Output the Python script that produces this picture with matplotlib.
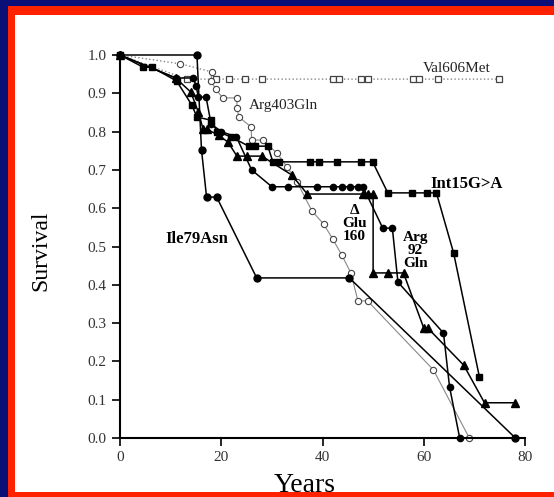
import matplotlib.pyplot as plt
from matplotlib.patches import Rectangle

# survival curves (years, survival fraction)
ile79_x = [0, 15.2, 16.1, 17.1, 19.1, 27.0, 45.3, 78.1]
ile79_y = [1.0, 1.0, 0.752, 0.629, 0.629, 0.418, 0.418, 0.0]

int15_x = [0, 4.6, 6.3, 11.2, 14.2, 15.2, 17.9, 19.2, 22.0, 25.4, 26.6, 29.2, 30.2, 31.5,
           37.5, 39.4, 42.8, 47.7, 49.9, 52.9, 57.6, 60.7, 62.5, 65.9, 71.0]
int15_y = [1.0, 0.968, 0.968, 0.932, 0.869, 0.838, 0.83, 0.80, 0.786, 0.762, 0.762, 0.762, 0.721, 0.721,
           0.721, 0.721, 0.721, 0.721, 0.721, 0.64, 0.64, 0.64, 0.64, 0.483, 0.159]

glu160_x = [0, 11.0, 14.0, 15.5, 16.4, 17.1, 19.5, 21.3, 23.1, 25.0, 28.0, 33.9, 37.0,
            48.0, 49.0, 50.0, 50.0, 52.9, 56.0, 60.0, 60.8, 67.9, 72.0, 78.0]
glu160_y = [1.0, 0.94, 0.903, 0.85, 0.807, 0.807, 0.79, 0.773, 0.736, 0.736, 0.736, 0.687, 0.637,
            0.637, 0.637, 0.637, 0.431, 0.431, 0.431, 0.287, 0.287, 0.19, 0.092, 0.092]

arg92_x = [0, 11.0, 14.5, 15.0, 15.5, 17.0, 18.0, 20.0, 23.0, 26.0, 30.0, 33.1, 39.0, 42.0,
           43.8, 45.4, 47.0, 48.0, 51.9, 53.8, 54.9, 63.9, 65.1, 67.1]
arg92_y = [1.0, 0.94, 0.94, 0.92, 0.89, 0.89, 0.82, 0.80, 0.786, 0.70, 0.656, 0.656, 0.656, 0.656,
           0.656, 0.656, 0.656, 0.656, 0.548, 0.548, 0.407, 0.274, 0.133, 0.0]

arg403_x = [0, 11.9, 18.1, 18.0, 18.9, 20.3, 23.1, 23.1, 23.5, 25.9, 26.0, 28.2, 31.0, 33.0,
            35.0, 37.9, 40.2, 42.0, 43.8, 45.6, 47.0, 48.9, 61.9, 69.0]
arg403_y = [1.0, 0.977, 0.956, 0.933, 0.911, 0.888, 0.888, 0.862, 0.838, 0.812, 0.778, 0.778, 0.744, 0.708,
            0.668, 0.593, 0.559, 0.52, 0.478, 0.431, 0.358, 0.358, 0.178, 0.0]

val606_x = [0, 13.2]
val606_y = [1.0, 0.937]
val606_cens = [13.2, 18.9, 21.5, 24.7, 28.0, 42.0, 43.2, 47.7, 48.9, 57.8, 59.0, 62.9, 74.8]

plt.rcParams['font.family'] = ['Liberation Serif', 'DejaVu Serif']

fig = plt.figure(figsize=(5.54, 4.97), dpi=100)
fig.patch.set_facecolor('#0a1078')
fig.patches.append(Rectangle((8 / 554, 0), 1, 1 - 6 / 497, transform=fig.transFigure,
                             facecolor='#ff2200', edgecolor='none', zorder=-5))
fig.patches.append(Rectangle((15 / 554, 5 / 497), 1, 1 - 20 / 497, transform=fig.transFigure,
                             facecolor='white', edgecolor='none', zorder=-4))

ax = fig.add_axes([120 / 554, 1 - 438 / 497, 405 / 554, 383 / 497])
ax.set_facecolor('none')

# Val606Met: dotted with open (censor) squares
ax.plot(val606_x + [val606_cens[-1]], val606_y + [val606_y[-1]], ':', color='#888888', lw=1, clip_on=False)
ax.plot(val606_cens, [val606_y[-1]] * len(val606_cens), 's', ms=4.5, mfc='white', mec='#444444',
        mew=0.9, ls='none', clip_on=False)

# Arg403Gln: thin grey with open circles
ax.plot(arg403_x[:3], arg403_y[:3], ':', color='#888888', lw=1, clip_on=False)
ax.plot(arg403_x[2:], arg403_y[2:], '-', color='#888888', lw=0.8, clip_on=False)
ax.plot(arg403_x[1:], arg403_y[1:], 'o', ms=4.5, mfc='white', mec='#444444', mew=0.8, ls='none',
        clip_on=False)

ax.plot(ile79_x, ile79_y, '-o', color='black', lw=1.1, ms=5, clip_on=False)
ax.plot(int15_x, int15_y, '-s', color='black', lw=1.1, ms=4.5, clip_on=False)
ax.plot(glu160_x, glu160_y, '-^', color='black', lw=1.1, ms=5.5, clip_on=False)
ax.plot(arg92_x, arg92_y, '-o', color='black', lw=1.1, ms=4.5, clip_on=False)

ax.set_xlim(0, 80)
ax.set_ylim(0, 1.0)
ax.set_xticks([0, 20, 40, 60, 80])
ax.set_yticks([i / 10 for i in range(11)])
ax.set_yticklabels(['%.1f' % (i / 10) for i in range(11)])
ax.tick_params(direction='out', length=6, width=1.2, labelsize=11, colors='black', labelcolor='#333333')
for s in ['top', 'right']:
    ax.spines[s].set_visible(False)
for s in ['left', 'bottom']:
    ax.spines[s].set_linewidth(1.5)

ax.set_xlabel('Years', fontsize=20)
ax.xaxis.set_label_coords(0.455, -0.092)
ax.set_ylabel('Survival', fontsize=17)
ax.yaxis.set_label_coords(-0.17, 0.49)

ax.text(66.5, 0.966, 'Val606Met', fontsize=11, ha='center', va='center', color='#222222')
ax.text(32.2, 0.867, 'Arg403Gln', fontsize=11, ha='center', va='center', color='#222222')
ax.text(68.5, 0.663, 'Int15G>A', fontsize=12, ha='center', va='center', fontweight='bold')
ax.text(15.2, 0.52, 'Ile79Asn', fontsize=12, ha='center', va='center', fontweight='bold')
ax.text(46.3, 0.56, '\u0394\nGlu\n160', fontsize=11, ha='center', va='center', fontweight='bold',
        linespacing=1.0)
ax.text(58.3, 0.49, 'Arg\n92\nGln', fontsize=11, ha='center', va='center', fontweight='bold',
        linespacing=1.0)

fig.savefig('out.png', dpi=100, facecolor=fig.get_facecolor())
